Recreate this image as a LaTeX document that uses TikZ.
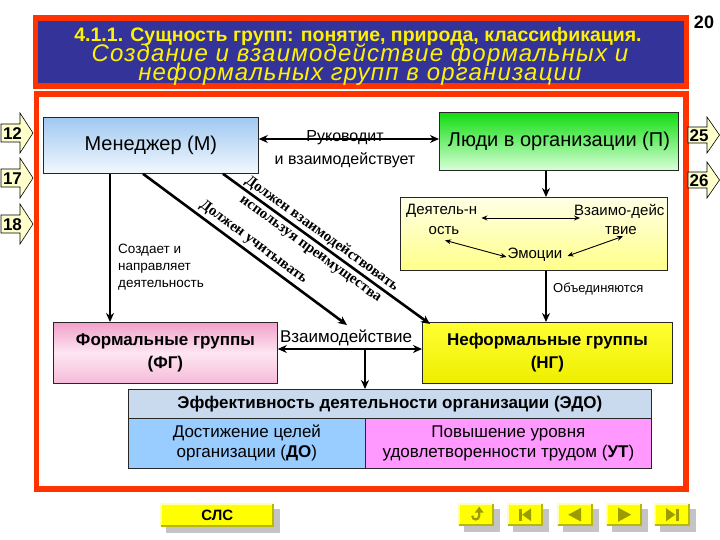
\documentclass[tikz,border=0pt]{standalone}
\usepackage{fontspec}
\setmainfont{Liberation Sans}
\newfontfamily\diagserif{Liberation Serif}
\newfontfamily\titleital{Liberation Sans}[LetterSpace=5]
\usetikzlibrary{arrows.meta,calc}
\newcommand{\setfs}[1]{\fontsize{#1}{#1}\selectfont}
\newcommand{\setfsb}[2]{\fontsize{#1}{#2}\selectfont}
\definecolor{redfr}{HTML}{FF3300}
\definecolor{tblue}{HTML}{333399}
\definecolor{mtop}{HTML}{A0C8F0}
\definecolor{mbot}{HTML}{F2F8FF}
\definecolor{gtop}{HTML}{11DD11}
\definecolor{gbot}{HTML}{D8FFD8}
\definecolor{ytop}{HTML}{FFFFE6}
\definecolor{ybot}{HTML}{FFFF88}
\definecolor{ptop}{HTML}{F2A0CA}
\definecolor{pmid}{HTML}{FDE6F1}
\definecolor{pbot}{HTML}{F6BBD9}
\definecolor{ntop}{HTML}{FFFF33}
\definecolor{nbot}{HTML}{EEEE00}
\definecolor{hdr}{HTML}{C9D9EE}
\definecolor{dcell}{HTML}{99CCFF}
\definecolor{ucell}{HTML}{FF99FF}
\definecolor{arrfill}{HTML}{FFFFCC}
\definecolor{btnyel}{HTML}{FFFF00}
\definecolor{btnlight}{HTML}{FFFFB0}
\definecolor{btndark}{HTML}{B8B800}
\definecolor{btnshadow}{HTML}{C4C4C4}
\definecolor{iconol}{HTML}{9C9C00}
\tikzset{
 box/.style={draw=black!85, line width=0.8pt, inner sep=0pt, align=center, anchor=north west},
 thk/.style={line width=2.6pt, -{Stealth[length=9pt,width=8pt]}},
 thkb/.style={line width=2.6pt, {Stealth[length=9pt,width=8pt]}-{Stealth[length=9pt,width=8pt]}},
 thintwo/.style={line width=0.9pt, {Stealth[length=6pt,width=5pt]}-{Stealth[length=6pt,width=5pt]}},
 sidearr/.style={draw=black, line width=0.6pt, fill=arrfill},
 num/.style={font=\setfs{17}\bfseries, inner sep=0pt},
 btnbox/.style={fill=btnyel, inner sep=0pt, anchor=north west},
 diag/.style={font=\diagserif\bfseries\setfsb{15}{19}, inner sep=0pt, align=center},
 etxt/.style={font=\setfs{15}, inner sep=0pt},
}
\newcommand{\bevel}[1]{%
 \draw[btnlight, line width=1.5pt] ([shift={(0.75,-0.75)}]#1.south west) -- ([shift={(0.75,0.75)}]#1.north west) -- ([shift={(-0.75,0.75)}]#1.north east);
 \draw[btndark, line width=2.5pt] ([shift={(-1.25,1.25)}]#1.north east) -- ([shift={(-1.25,-1.25)}]#1.south east) -- ([shift={(1.25,-1.25)}]#1.south west);}
\begin{document}
\begin{tikzpicture}[x=1pt,y=-1pt]
\fill[white] (0,0) rectangle (720,540);
\useasboundingbox (0,0) rectangle (720,540);

% title
\draw[redfr, line width=5.5pt, fill=tblue] (35.5,18) rectangle (686.5,86);
\node[anchor=base, text=yellow, font=\setfs{19.5}\bfseries, inner sep=0pt] (ttl1) at (358,42) {4.1.1. Сущность групп: понятие, природа, классификация.};
\node[anchor=base, text=yellow, font=\titleital\itshape\setfs{24}, inner sep=0pt] (ttl2) at (360,62) {Создание и взаимодействие формальных и};
\node[anchor=base, text=yellow, font=\titleital\itshape\setfs{24}, inner sep=0pt] (ttl3) at (360,81) {неформальных групп в организации};
\node[anchor=base, font=\setfs{18}\bfseries, inner sep=0pt] (pg) at (704,29) {20};

% main frame
\draw[redfr, line width=5.5pt] (36.5,94) rectangle (686,489);

% side arrows
\foreach \t/\n in {133/12, 178/17, 224/18} {
 \draw[sidearr] (1,\t-9) -- (20,\t-9) -- (20,\t-20) -- (33,\t) -- (20,\t+20) -- (20,\t+9) -- (1,\t+9) -- cycle;
 \node[num] (n\n) at (12.5,\t+1) {\n};
}
\foreach \t/\n in {135/25, 180/26} {
 \draw[sidearr] (688,\t-8) -- (707,\t-8) -- (707,\t-18) -- (719.5,\t) -- (707,\t+18) -- (707,\t+8) -- (688,\t+8) -- cycle;
 \node[num] (n\n) at (699,\t+1) {\n};
}

% boxes
\node[box, top color=mtop, bottom color=mbot, minimum width=215pt, minimum height=56pt, font=\setfs{20}] (M) at (43,117) {Менеджер (М)};
\node[box, top color=gtop, bottom color=gbot, minimum width=239pt, minimum height=58pt, font=\setfs{20}] (P) at (439,112) {Люди в организации (П)};
\node[box, top color=ytop, bottom color=ybot, minimum width=267pt, minimum height=73pt] (Y) at (400,197) {};
\node[box, top color=ptop, bottom color=pbot, middle color=pmid, minimum width=224pt, minimum height=61pt, font=\setfsb{17}{23}\bfseries] (FG) at (53,322) {Формальные группы\\(ФГ)};
\node[box, top color=ntop, bottom color=nbot, minimum width=250pt, minimum height=61pt, font=\setfsb{17}{23}\bfseries] (NG) at (422,322) {Неформальные группы\\(НГ)};
\node[box, fill=hdr, minimum width=523pt, minimum height=29pt, font=\setfs{17}\bfseries] (H) at (128,389) {Эффективность деятельности организации (ЭДО)};
\node[box, fill=dcell, minimum width=237pt, minimum height=50pt, font=\setfsb{17}{20}] (DO) at (128,418) {Достижение целей\\организации (\textbf{ДО})};
\node[box, fill=ucell, minimum width=286pt, minimum height=50pt, font=\setfsb{17}{20}] (UT) at (365,418) {Повышение уровня\\удовлетворенности трудом (\textbf{УТ})};

% texts in yellow box
\node[etxt, anchor=west] (e1) at (406,211) {Деятель-н};
\node[etxt] (e2) at (444,231) {ость};
\node[etxt, anchor=west] (e3) at (574,211) {Взаимо-дейс};
\node[etxt] (e4) at (621,231) {твие};
\node[etxt] (e5) at (535,255) {Эмоции};
\draw[thintwo] ([shift={(4,7)}]e1.east) -- ([shift={(6,7)}]e3.west);
\draw[thintwo] ([shift={(1,5)}]e2.south) -- ([shift={(-1,2)}]e5.west);
\draw[thintwo] ([shift={(2,1)}]e4.south) -- ([shift={(5,1)}]e5.east);

% connectors
\coordinate (cy1) at (0,139);
\draw[thkb] (M.east |- cy1) -- (P.west |- cy1);
\node[font=\setfs{16}, inner sep=0pt] (ruk) at (345,138) {Руководит};
\node[font=\setfs{16}, inner sep=0pt] (vz) at (345,160) {и взаимодействует};

\coordinate (cx1) at (546,0);
\draw[thk] (P.south -| cx1) -- (Y.north -| cx1);
\draw[thk] (Y.south -| cx1) -- (NG.north -| cx1);
\node[anchor=west, font=\setfs{13}, inner sep=0pt] (obj) at (553,289) {Объединяются};

\coordinate (cx2) at (110,0);
\draw[thk] (M.south -| cx2) -- (FG.north -| cx2);
\node[anchor=north west, align=left, font=\setfsb{13.5}{17}, inner sep=0pt] (cre) at (118,244) {Создает и\\направляет\\деятельность};

\coordinate (d1s) at (143,0);
\coordinate (d1e) at (347,325);
\draw[thk] (M.south -| d1s) -- (d1e)
 node[diag, pos=0.51, sloped, anchor=south, yshift=3pt] {Должен учитывать};

\coordinate (d2s) at (223,0);
\coordinate (d2e) at (430,324);
\draw[thk] (M.south -| d2s) -- (d2e)
 node[diag, pos=0.45, sloped] {Должен взаимодействовать\\используя преимущества};

\coordinate (cy2) at (0,349);
\draw[thkb] (FG.east |- cy2) -- (NG.west |- cy2);
\node[font=\setfs{17}, inner sep=0pt] (vzd) at (346,338) {Взаимодействие};
\coordinate (cx3) at (365,349);
\draw[thk] (cx3) -- (H.north -| cx3);

% buttons
\fill[btnshadow] (166,509) rectangle (280,533);
\node[btnbox, minimum width=114pt, minimum height=24pt, font=\setfs{15}\bfseries] (sls) at (160,503) {СЛС};
\bevel{sls}
\foreach \bx/\bn in {458/1, 507/2, 557/3, 606/4, 654/5} {
 \fill[btnshadow] (\bx+6,509) rectangle (\bx+42,532);
 \node[btnbox, minimum width=36pt, minimum height=23pt] (nb\bn) at (\bx,503) {};
 \bevel{nb\bn}
}
\begin{scope}[shift={(nb1.center)}]
 \draw[iconol, line width=2.2pt] (3,-3) -- (3,1) .. controls (3,6) and (-4,6) .. (-4,1);
 \fill[iconol] (3,-8) -- (7.5,-2) -- (-1.5,-2) -- cycle;
\end{scope}
\begin{scope}[shift={(nb2.center)}]
 \fill[iconol] (-6.5,-6) rectangle (-3.5,6);
 \fill[iconol] (-3,0) -- (6,-6.5) -- (6,6.5) -- cycle;
\end{scope}
\begin{scope}[shift={(nb3.center)}]
 \fill[iconol] (-7,0) -- (6,-7) -- (6,7) -- cycle;
\end{scope}
\begin{scope}[shift={(nb4.center)}]
 \fill[iconol] (7,0) -- (-6,-7) -- (-6,7) -- cycle;
\end{scope}
\begin{scope}[shift={(nb5.center)}]
 \fill[iconol] (3,0) -- (-6,-6.5) -- (-6,6.5) -- cycle;
 \fill[iconol] (3.5,-6) rectangle (6.5,6);
\end{scope}
\end{tikzpicture}
\end{document}
